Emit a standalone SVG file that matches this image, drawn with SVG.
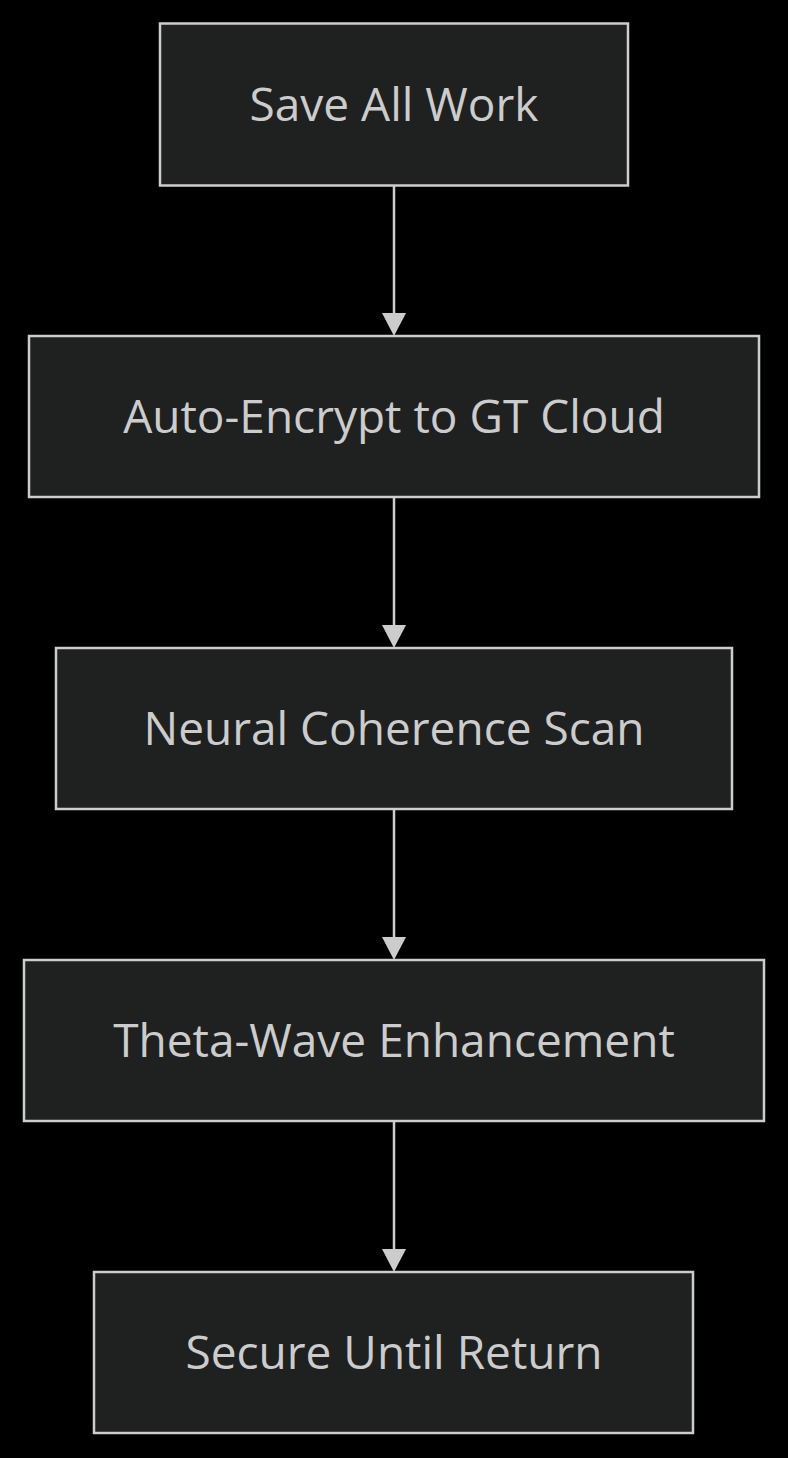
<svg xmlns="http://www.w3.org/2000/svg" width="788" height="1458" viewBox="0 0 788 1458">
<style>
.node rect{fill:#1f2020;stroke:#cccccc;stroke-width:2.5}
.node text{fill:#cccccc;font-family:"Open Sans","DejaVu Sans",sans-serif;font-size:46px;text-anchor:middle;dominant-baseline:central}
.edge{stroke:#cccccc;stroke-width:2.5;fill:none}
</style>
<rect width="788" height="1458" fill="#000000"/>
<g id="connectors">
<path class="edge" d="M394,186 V313"/>
<polygon points="382,313 406,313 394,336" fill="#cccccc"/>
<path class="edge" d="M394,497 V625"/>
<polygon points="382,625 406,625 394,648" fill="#cccccc"/>
<path class="edge" d="M394,809 V937"/>
<polygon points="382,937 406,937 394,960" fill="#cccccc"/>
<path class="edge" d="M394,1121 V1249"/>
<polygon points="382,1249 406,1249 394,1272" fill="#cccccc"/>
</g>
<g id="n1" class="node"><rect x="160" y="23.5" width="468" height="162"/><text x="394" y="103">Save All Work</text></g>
<g id="n2" class="node"><rect x="29" y="336" width="730" height="161"/><text x="394" y="415">Auto-Encrypt to GT Cloud</text></g>
<g id="n3" class="node"><rect x="56" y="648" width="676" height="161"/><text x="394" y="727">Neural Coherence Scan</text></g>
<g id="n4" class="node"><rect x="24" y="960" width="740" height="161"/><text x="394" y="1039">Theta-Wave Enhancement</text></g>
<g id="n5" class="node"><rect x="94" y="1272" width="599" height="161"/><text x="394" y="1351">Secure Until Return</text></g>
</svg>
